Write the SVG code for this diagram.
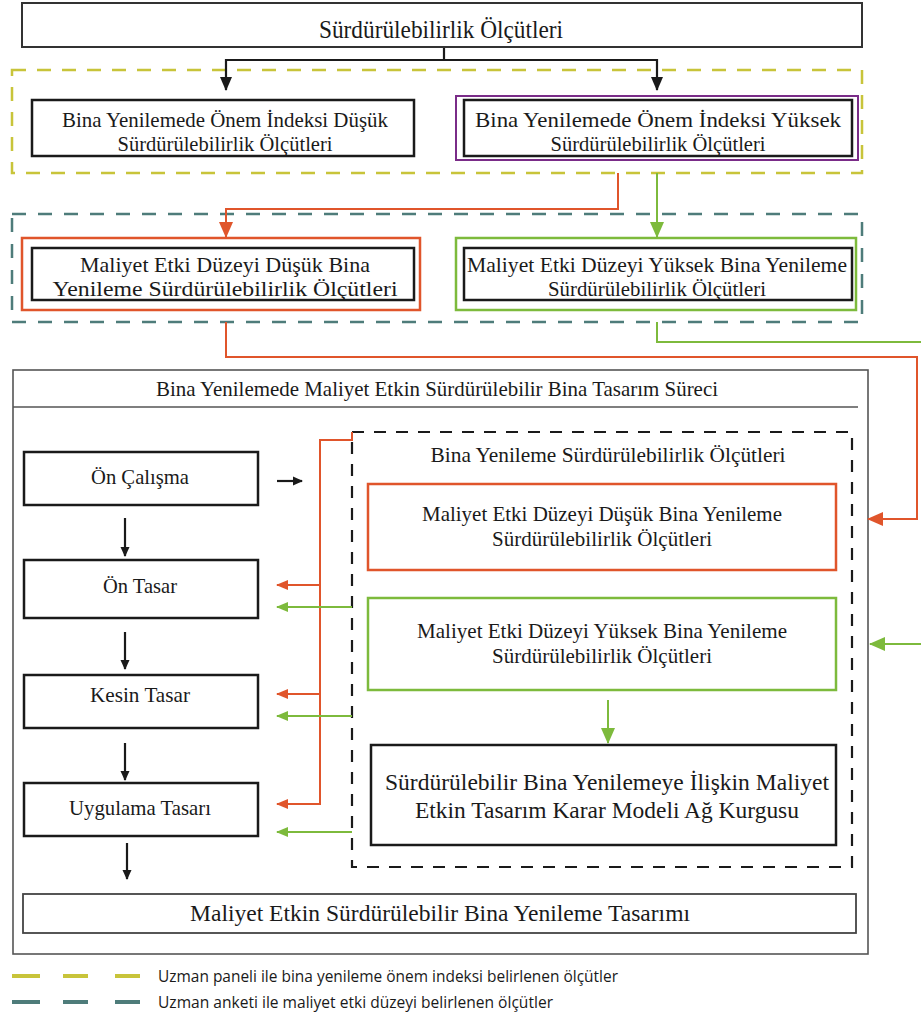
<svg xmlns="http://www.w3.org/2000/svg" width="921" height="1014" viewBox="0 0 921 1014">
  <style>
    .serif { font-family: "Liberation Serif", "Times New Roman", serif; fill: #1a1a1a; text-anchor: middle; }
    .sans { font-family: "Open Sans", "Liberation Sans", sans-serif; fill: #1a1a1a; }
    .box { fill: #ffffff; stroke: #1a1a1a; stroke-width: 2.5; }
    .thin { fill: #ffffff; stroke: #555555; stroke-width: 1.6; }
    .orange { fill: none; stroke: #e0552b; stroke-width: 2.5; }
    .green { fill: none; stroke: #7dba3c; stroke-width: 2.5; }
    .purple { fill: none; stroke: #7a2c88; stroke-width: 2; }
    .dash-y { fill: none; stroke: #c8c43a; stroke-width: 2.5; stroke-dasharray: 14 11; }
    .dash-t { fill: none; stroke: #4e7c7a; stroke-width: 2.5; stroke-dasharray: 14 12; }
    .dash-k { fill: none; stroke: #1a1a1a; stroke-width: 2.2; stroke-dasharray: 12 10; }
    .c-k { fill: none; stroke: #1a1a1a; stroke-width: 2.2; }
    .c-o { fill: none; stroke: #e0552b; stroke-width: 2; }
    .c-g { fill: none; stroke: #7dba3c; stroke-width: 2; }
  </style>
  <defs>
    <marker id="ah-k" markerUnits="userSpaceOnUse" markerWidth="14" markerHeight="14" viewBox="0 0 14 14" refX="13" refY="7" orient="auto">
      <path d="M0,1 L14,7 L0,13 Z" fill="#1a1a1a"/>
    </marker>
    <marker id="ah-ks" markerUnits="userSpaceOnUse" markerWidth="10" markerHeight="10" viewBox="0 0 10 10" refX="9" refY="5" orient="auto">
      <path d="M0,0.5 L10,5 L0,9.5 Z" fill="#1a1a1a"/>
    </marker>
    <marker id="ah-o" markerUnits="userSpaceOnUse" markerWidth="12" markerHeight="12" viewBox="0 0 12 12" refX="11" refY="6" orient="auto">
      <path d="M0,1 L12,6 L0,11 Z" fill="#e0552b"/>
    </marker>
    <marker id="ah-g" markerUnits="userSpaceOnUse" markerWidth="12" markerHeight="12" viewBox="0 0 12 12" refX="11" refY="6" orient="auto">
      <path d="M0,1 L12,6 L0,11 Z" fill="#7dba3c"/>
    </marker>
    <marker id="ah-o-big" markerUnits="userSpaceOnUse" markerWidth="16" markerHeight="16" viewBox="0 0 16 16" refX="15" refY="8" orient="auto">
      <path d="M0,1 L16,8 L0,15 Z" fill="#e0552b"/>
    </marker>
    <marker id="ah-g-big" markerUnits="userSpaceOnUse" markerWidth="16" markerHeight="16" viewBox="0 0 16 16" refX="15" refY="8" orient="auto">
      <path d="M0,1 L16,8 L0,15 Z" fill="#7dba3c"/>
    </marker>
  </defs>

  <rect width="921" height="1014" fill="#ffffff"/>

  <!-- group frames -->
  <g id="frames">
    <rect class="dash-y" x="12" y="70" width="850" height="103"/>
    <rect class="dash-t" x="12" y="214" width="850" height="108"/>
    <rect class="thin" x="13" y="370" width="855" height="584"/>
    <line x1="13" y1="407" x2="858" y2="407" stroke="#555555" stroke-width="1.6"/>
    <rect class="dash-k" x="352" y="432" width="500" height="435"/>
  </g>

  <!-- connectors -->
  <g id="connectors">
    <path class="c-k" d="M444,47 V60 H226 V90" marker-end="url(#ah-k)"/>
    <path class="c-k" d="M444,60 H657 V90" marker-end="url(#ah-k)"/>
    <path class="c-o" d="M618,173 V209 H226 V237" marker-end="url(#ah-o-big)"/>
    <path class="c-g" d="M657,173 V237" marker-end="url(#ah-g-big)"/>
    <path class="c-o" d="M226,322 V357 H917 V519 H868" marker-end="url(#ah-o-big)"/>
    <path class="c-g" d="M657,322 V342 H925 V644 H870" marker-end="url(#ah-g-big)"/>
    <path class="c-k" d="M277,481 H302" marker-end="url(#ah-ks)"/>
    <path class="c-k" d="M125,518 V556" marker-end="url(#ah-ks)"/>
    <path class="c-k" d="M125,632 V669" marker-end="url(#ah-ks)"/>
    <path class="c-k" d="M125,743 V780" marker-end="url(#ah-ks)"/>
    <path class="c-k" d="M127,843 V879" marker-end="url(#ah-ks)"/>
    <path class="c-o" d="M352,432 V440 H320 V804 H277" marker-end="url(#ah-o)"/>
    <path class="c-o" d="M320,585 H277" marker-end="url(#ah-o)"/>
    <path class="c-o" d="M320,694 H277" marker-end="url(#ah-o)"/>
    <path class="c-g" d="M352,607 H277" marker-end="url(#ah-g)"/>
    <path class="c-g" d="M352,716 H277" marker-end="url(#ah-g)"/>
    <path class="c-g" d="M352,832 H277" marker-end="url(#ah-g)"/>
    <path class="c-g" d="M608,700 V743" marker-end="url(#ah-g-big)"/>
  </g>

  <!-- top node -->
  <g id="n-top">
    <rect x="22" y="3" width="840" height="44" fill="#ffffff" stroke="#333333" stroke-width="2"/>
    <text class="serif" x="441" y="38" font-size="25" textLength="244" lengthAdjust="spacingAndGlyphs">Sürdürülebilirlik Ölçütleri</text>
  </g>

  <g id="n-index-low">
    <rect class="box" x="32" y="100" width="382" height="56"/>
    <text class="serif" x="225" y="127" font-size="21" textLength="326" lengthAdjust="spacingAndGlyphs">Bina Yenilemede Önem İndeksi Düşük</text>
    <text class="serif" x="225" y="151" font-size="21" textLength="215" lengthAdjust="spacingAndGlyphs">Sürdürülebilirlik Ölçütleri</text>
  </g>

  <g id="n-index-high">
    <rect class="purple" x="456" y="96" width="402" height="64"/>
    <rect class="box" x="464" y="100" width="388" height="56"/>
    <text class="serif" x="658" y="127" font-size="21" textLength="366" lengthAdjust="spacingAndGlyphs">Bina Yenilemede Önem İndeksi Yüksek</text>
    <text class="serif" x="658" y="151" font-size="21" textLength="215" lengthAdjust="spacingAndGlyphs">Sürdürülebilirlik Ölçütleri</text>
  </g>

  <g id="n-cost-low">
    <rect class="orange" x="22" y="238" width="398" height="72"/>
    <rect class="box" x="32" y="248" width="382" height="52"/>
    <text class="serif" x="225" y="272" font-size="21" textLength="290" lengthAdjust="spacingAndGlyphs">Maliyet Etki Düzeyi Düşük Bina</text>
    <text class="serif" x="225" y="296" font-size="21" textLength="345" lengthAdjust="spacingAndGlyphs">Yenileme Sürdürülebilirlik Ölçütleri</text>
  </g>

  <g id="n-cost-high">
    <rect class="green" x="456" y="238" width="400" height="72"/>
    <rect class="box" x="464" y="248" width="388" height="52"/>
    <text class="serif" x="657" y="272" font-size="21" textLength="380" lengthAdjust="spacingAndGlyphs">Maliyet Etki Düzeyi Yüksek Bina Yenileme</text>
    <text class="serif" x="657" y="296" font-size="21" textLength="218" lengthAdjust="spacingAndGlyphs">Sürdürülebilirlik Ölçütleri</text>
  </g>

  <g id="n-process-title">
    <text class="serif" x="437" y="396" font-size="21" textLength="562" lengthAdjust="spacingAndGlyphs">Bina Yenilemede Maliyet Etkin Sürdürülebilir Bina Tasarım Süreci</text>
  </g>

  <g id="n-on-calisma">
    <rect class="box" x="24" y="452" width="234" height="53"/>
    <text class="serif" x="140" y="484" font-size="21" textLength="98" lengthAdjust="spacingAndGlyphs">Ön Çalışma</text>
  </g>

  <g id="n-on-tasar">
    <rect class="box" x="24" y="560" width="234" height="58"/>
    <text class="serif" x="140" y="593" font-size="21" textLength="74" lengthAdjust="spacingAndGlyphs">Ön Tasar</text>
  </g>

  <g id="n-kesin-tasar">
    <rect class="box" x="24" y="675" width="234" height="53"/>
    <text class="serif" x="140" y="702" font-size="21" textLength="100" lengthAdjust="spacingAndGlyphs">Kesin Tasar</text>
  </g>

  <g id="n-uygulama-tasari">
    <rect class="box" x="24" y="783" width="234" height="53"/>
    <text class="serif" x="140" y="815" font-size="21" textLength="142" lengthAdjust="spacingAndGlyphs">Uygulama Tasarı</text>
  </g>

  <g id="n-criteria-title">
    <text class="serif" x="608" y="462" font-size="21" textLength="355" lengthAdjust="spacingAndGlyphs">Bina Yenileme Sürdürülebilirlik Ölçütleri</text>
  </g>

  <g id="n-inner-low">
    <rect class="orange" x="368" y="484" width="468" height="86" fill="#ffffff"/>
    <text class="serif" x="602" y="521" font-size="21" textLength="360" lengthAdjust="spacingAndGlyphs">Maliyet Etki Düzeyi Düşük Bina Yenileme</text>
    <text class="serif" x="602" y="546" font-size="21" textLength="220" lengthAdjust="spacingAndGlyphs">Sürdürülebilirlik Ölçütleri</text>
  </g>

  <g id="n-inner-high">
    <rect class="green" x="368" y="598" width="468" height="92"/>
    <text class="serif" x="602" y="638" font-size="21" textLength="370" lengthAdjust="spacingAndGlyphs">Maliyet Etki Düzeyi Yüksek Bina Yenileme</text>
    <text class="serif" x="602" y="663" font-size="21" textLength="220" lengthAdjust="spacingAndGlyphs">Sürdürülebilirlik Ölçütleri</text>
  </g>

  <g id="n-model">
    <rect class="box" x="371" y="745" width="465" height="100"/>
    <text class="serif" x="607" y="790" font-size="24" textLength="444" lengthAdjust="spacingAndGlyphs">Sürdürülebilir Bina Yenilemeye İlişkin Maliyet</text>
    <text class="serif" x="607" y="818" font-size="24" textLength="384" lengthAdjust="spacingAndGlyphs">Etkin Tasarım Karar Modeli Ağ Kurgusu</text>
  </g>

  <g id="n-result">
    <rect x="23" y="894" width="833" height="39" fill="#ffffff" stroke="#444444" stroke-width="1.8"/>
    <text class="serif" x="440" y="921" font-size="23" textLength="500" lengthAdjust="spacingAndGlyphs">Maliyet Etkin Sürdürülebilir Bina Yenileme Tasarımı</text>
  </g>

  <!-- legend -->
  <g id="legend">
    <path d="M12,976 H40 M63,976 H88 M115,976 H140" stroke="#c8c43a" stroke-width="4" fill="none"/>
    <path d="M12,1002 H40 M63,1002 H88 M115,1002 H140" stroke="#4e7c7a" stroke-width="4" fill="none"/>
    <text class="sans" x="158" y="982" font-size="17" textLength="460" lengthAdjust="spacingAndGlyphs">Uzman paneli ile bina yenileme önem indeksi belirlenen ölçütler</text>
    <text class="sans" x="158" y="1008" font-size="17" textLength="395" lengthAdjust="spacingAndGlyphs">Uzman anketi ile maliyet etki düzeyi belirlenen ölçütler</text>
  </g>
</svg>
